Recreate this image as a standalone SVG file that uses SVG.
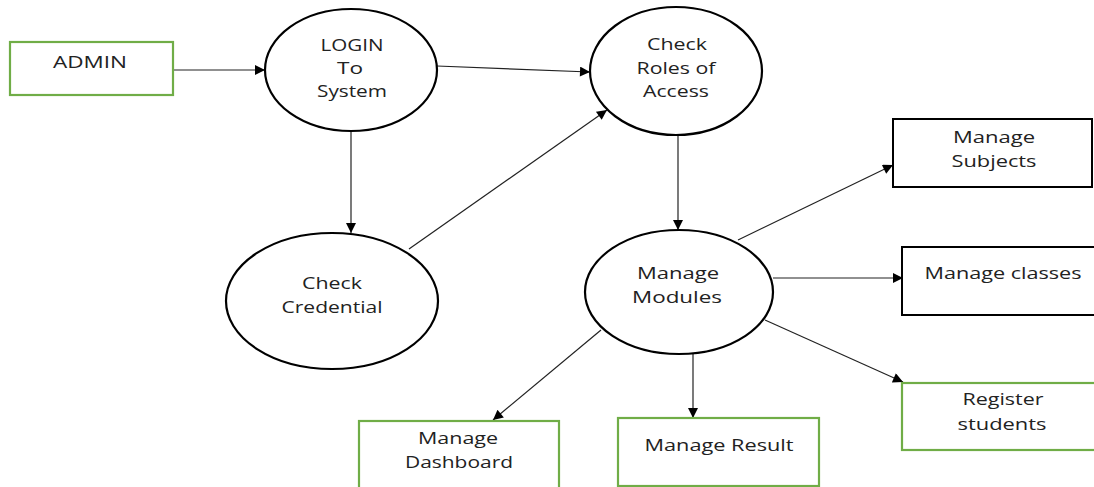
<svg xmlns="http://www.w3.org/2000/svg" width="1094" height="487" viewBox="0 0 1094 487">
<style>
text{font-family:"Open Sans","Liberation Sans",sans-serif;font-size:16px;fill:#222;text-anchor:middle}
.proc{fill:#fff;stroke:#000;stroke-width:2.2}
.ent{fill:#fff;stroke:#70ad47;stroke-width:2.2}
.ext{fill:#fff;stroke:#000;stroke-width:2}
.c{stroke:#222;stroke-width:1.2;fill:none;marker-end:url(#ah)}
</style>
<defs>
<marker id="ah" viewBox="0 0 10 10" refX="10" refY="5" markerWidth="12" markerHeight="10" markerUnits="userSpaceOnUse" orient="auto">
<path d="M0,0 L10,5 L0,10 z" fill="#000"/>
</marker>
</defs>
<rect width="1094" height="487" fill="#fff"/>
<g id="connectors">
<line class="c" x1="173" y1="70" x2="265" y2="70"/>
<line class="c" x1="437" y1="66" x2="590" y2="72"/>
<line class="c" x1="351" y1="131" x2="351" y2="233"/>
<line class="c" x1="409" y1="249" x2="607" y2="110"/>
<line class="c" x1="678" y1="135" x2="678" y2="230"/>
<line class="c" x1="738" y1="240" x2="893" y2="165"/>
<line class="c" x1="773" y1="278" x2="903" y2="278"/>
<line class="c" x1="765" y1="320" x2="903" y2="382"/>
<line class="c" x1="601" y1="330" x2="493" y2="420"/>
<line class="c" x1="693" y1="354" x2="693" y2="418"/>
</g>
<g id="admin">
<rect class="ent" x="10" y="42" width="163" height="53"/>
<text x="90" y="68" textLength="74" lengthAdjust="spacingAndGlyphs">ADMIN</text>
</g>
<g id="login">
<ellipse class="proc" cx="351" cy="70" rx="86" ry="61"/>
<text x="352" y="51" textLength="63" lengthAdjust="spacingAndGlyphs">LOGIN</text>
<text x="350" y="74" textLength="26" lengthAdjust="spacingAndGlyphs">To</text>
<text x="352" y="97" textLength="70" lengthAdjust="spacingAndGlyphs">System</text>
</g>
<g id="check-roles">
<ellipse class="proc" cx="676" cy="71" rx="86" ry="64"/>
<text x="677" y="50" textLength="60" lengthAdjust="spacingAndGlyphs">Check</text>
<text x="676" y="74" textLength="79" lengthAdjust="spacingAndGlyphs">Roles of</text>
<text x="676" y="97" textLength="66" lengthAdjust="spacingAndGlyphs">Access</text>
</g>
<g id="check-credential">
<ellipse class="proc" cx="332" cy="301" rx="106" ry="68"/>
<text x="332" y="289" textLength="60" lengthAdjust="spacingAndGlyphs">Check</text>
<text x="332" y="313" textLength="101" lengthAdjust="spacingAndGlyphs">Credential</text>
</g>
<g id="manage-modules">
<ellipse class="proc" cx="679" cy="292" rx="94" ry="62"/>
<text x="678" y="279" textLength="82" lengthAdjust="spacingAndGlyphs">Manage</text>
<text x="677" y="303" textLength="90" lengthAdjust="spacingAndGlyphs">Modules</text>
</g>
<g id="manage-subjects">
<rect class="ext" x="893" y="119" width="199" height="68"/>
<text x="994" y="143" textLength="82" lengthAdjust="spacingAndGlyphs">Manage</text>
<text x="994" y="167" textLength="85" lengthAdjust="spacingAndGlyphs">Subjects</text>
</g>
<g id="manage-classes">
<rect class="ext" x="902" y="247" width="194" height="68"/>
<text x="1003" y="279" textLength="157" lengthAdjust="spacingAndGlyphs">Manage classes</text>
</g>
<g id="register-students">
<rect class="ent" x="902" y="383" width="194" height="67"/>
<text x="1003" y="405" textLength="81" lengthAdjust="spacingAndGlyphs">Register</text>
<text x="1002" y="430" textLength="89" lengthAdjust="spacingAndGlyphs">students</text>
</g>
<g id="manage-dashboard">
<rect class="ent" x="359" y="421" width="200" height="70"/>
<text x="458" y="444" textLength="80" lengthAdjust="spacingAndGlyphs">Manage</text>
<text x="459" y="468" textLength="108" lengthAdjust="spacingAndGlyphs">Dashboard</text>
</g>
<g id="manage-result">
<rect class="ent" x="618" y="418" width="201" height="68"/>
<text x="719" y="451" textLength="149" lengthAdjust="spacingAndGlyphs">Manage Result</text>
</g>
</svg>
